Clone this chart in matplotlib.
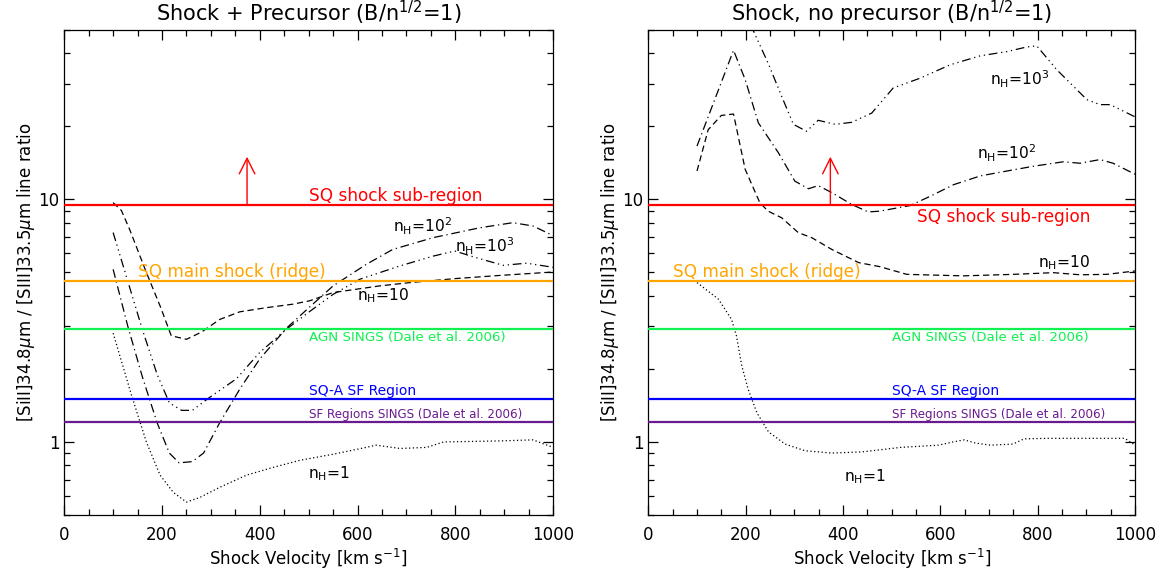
import matplotlib
matplotlib.use("Agg")
import matplotlib.pyplot as plt
from matplotlib.ticker import LogLocator, MultipleLocator, FormatStrFormatter, NullFormatter

# ---- data (shock velocity in km/s, line ratio) ----

# left panel: shock + precursor
pre_n1_v = [100, 138, 168, 196, 223, 250, 277, 318, 373, 427, 482, 550, 618, 638, 687, 742, 776, 891, 959, 1000]
pre_n1_r = [2.81, 1.55, 1.0, 0.73, 0.62, 0.565, 0.59, 0.65, 0.73, 0.785, 0.84, 0.89, 0.95, 0.97, 0.94, 0.95, 1.0, 1.01, 1.02, 0.95]

pre_n10_v = [100, 117, 134, 168, 196, 219, 250, 281, 318, 359, 414, 468, 502, 550, 645, 707, 802, 891, 1000]
pre_n10_r = [9.7, 9.0, 7.5, 5.0, 3.64, 2.74, 2.65, 2.84, 3.2, 3.44, 3.58, 3.70, 3.82, 4.13, 4.40, 4.54, 4.72, 4.86, 5.02]

pre_n100_v = [100, 130, 160, 190, 215, 235, 262, 285, 318, 359, 400, 455, 502, 550, 618, 672, 755, 850, 918, 959, 1000]
pre_n100_r = [5.15, 3.0, 1.85, 1.2, 0.9, 0.82, 0.83, 0.9, 1.2, 1.65, 2.2, 2.95, 3.6, 4.40, 5.40, 6.22, 6.96, 7.64, 8.02, 7.77, 7.1]

pre_n1000_v = [100, 130, 160, 190, 215, 240, 262, 298, 352, 400, 455, 502, 550, 605, 687, 755, 799, 843, 898, 946, 1000]
pre_n1000_r = [7.3, 4.6, 2.9, 1.9, 1.45, 1.35, 1.35, 1.53, 1.82, 2.34, 2.92, 3.45, 4.06, 4.69, 5.32, 5.84, 6.13, 5.75, 5.35, 5.46, 5.25]

# right panel: shock only
sh_n1_v = [100, 144, 171, 181, 192, 205, 223, 247, 281, 322, 377, 439, 519, 596, 626, 649, 672, 703, 749, 772, 818, 979, 1000]
sh_n1_r = [4.54, 3.88, 3.2, 2.74, 2.06, 1.65, 1.32, 1.10, 0.98, 0.92, 0.90, 0.91, 0.95, 0.97, 1.0, 1.02, 0.99, 0.97, 0.98, 1.03, 1.035, 1.035, 0.97]

sh_n10_v = [100, 123, 150, 175, 199, 229, 246, 274, 308, 336, 377, 432, 476, 531, 647, 750, 832, 887, 942, 1000]
sh_n10_r = [13.1, 19.4, 22.2, 22.5, 13.3, 9.7, 8.95, 8.4, 7.3, 6.95, 6.22, 5.49, 5.28, 4.91, 4.84, 4.91, 4.99, 4.89, 4.91, 5.07]

sh_n100_v = [100, 175, 199, 226, 267, 301, 329, 349, 377, 418, 452, 476, 538, 579, 627, 682, 737, 791, 853, 887, 928, 955, 1000]
sh_n100_r = [16.6, 41.2, 31.2, 20.7, 15.6, 11.9, 11.07, 11.4, 10.67, 9.53, 8.88, 8.95, 9.44, 10.3, 11.5, 12.5, 13.1, 13.7, 14.3, 14.1, 14.6, 14.1, 12.7]

sh_n1000_v = [175, 200, 215, 246, 274, 298, 325, 349, 384, 418, 459, 503, 558, 620, 682, 737, 777, 798, 839, 901, 928, 949, 1000]
sh_n1000_r = [80, 60, 50, 36.5, 26.6, 20.4, 19.1, 21.2, 20.4, 20.8, 22.7, 28.8, 31.6, 35.9, 39.1, 40.7, 42.5, 43.0, 34.3, 25.8, 24.6, 24.6, 21.9]

# observed ratios (horizontal lines)
obs_names = ["SQ shock sub-region", "SQ main shock (ridge)", "AGN SINGS (Dale et al. 2006)",
             "SQ-A SF Region", "SF Regions SINGS (Dale et al. 2006)"]
obs_values = [9.45, 4.59, 2.91, 1.50, 1.21]
obs_colors = ["#ff0000", "#ffa500", "#10f050", "#0000ff", "#6a1a8f"]

titles = [r"Shock + Precursor (B/n$^{1/2}$=1)", r"Shock, no precursor (B/n$^{1/2}$=1)"]
lower_limit_v = 374
lower_limit_top = 15.0

# ---- figure ----
fig = plt.figure(figsize=(11.64, 5.72), dpi=100)
ax_l = fig.add_axes([0.0552, 0.0997, 0.4199, 0.848])
ax_r = fig.add_axes([0.557, 0.0997, 0.4181, 0.848])

styles = {
    "n1": (0, (1, 2)),
    "n10": (0, (5, 3)),
    "n100": (0, (7, 3, 1, 3)),
    "n1000": (0, (7, 3, 1, 3, 1, 3, 1, 3)),
}


def draw_curves(ax, curves):
    for v, r, key in curves:
        ax.plot(v, r, color="black", lw=0.9, linestyle=styles[key])


draw_curves(ax_l, [(pre_n1_v, pre_n1_r, "n1"), (pre_n10_v, pre_n10_r, "n10"),
                   (pre_n100_v, pre_n100_r, "n100"), (pre_n1000_v, pre_n1000_r, "n1000")])
draw_curves(ax_r, [(sh_n1_v, sh_n1_r, "n1"), (sh_n10_v, sh_n10_r, "n10"),
                   (sh_n100_v, sh_n100_r, "n100"), (sh_n1000_v, sh_n1000_r, "n1000")])

label_sizes = [12.2, 12.2, 9.6, 10, 8.6]

for i, ax in enumerate([ax_l, ax_r]):
    for name, val, col, fs in zip(obs_names, obs_values, obs_colors, label_sizes):
        ax.axhline(val, color=col, lw=1.6, zorder=3)
    # line labels
    ax.text(500 if i == 0 else 551, obs_values[0] * (1.005 if i == 0 else 0.975), obs_names[0],
            color=obs_colors[0], fontsize=label_sizes[0], va="bottom" if i == 0 else "top")
    ax.text(151 if i == 0 else 51, obs_values[1] * 1.005, obs_names[1],
            color=obs_colors[1], fontsize=label_sizes[1], va="bottom")
    ax.text(500, obs_values[2] * 0.985, obs_names[2], color=obs_colors[2],
            fontsize=label_sizes[2], va="top")
    ax.text(500, obs_values[3] * 1.01, obs_names[3], color=obs_colors[3],
            fontsize=label_sizes[3], va="bottom")
    ax.text(500, obs_values[4] * 1.01, obs_names[4], color=obs_colors[4],
            fontsize=label_sizes[4], va="bottom")

    ax.annotate("", xy=(lower_limit_v, lower_limit_top), xytext=(lower_limit_v, obs_values[0]),
                arrowprops=dict(arrowstyle="->", color="#ff0000", lw=1.0, mutation_scale=28,
                                shrinkA=0, shrinkB=0), zorder=4)

    ax.set_yscale("log")
    ax.set_xlim(0, 1000)
    ax.set_ylim(0.5, 50)
    ax.xaxis.set_major_locator(MultipleLocator(200))
    ax.xaxis.set_minor_locator(MultipleLocator(50))
    ax.yaxis.set_major_locator(LogLocator(base=10))
    ax.yaxis.set_minor_locator(LogLocator(base=10, subs=range(2, 10)))
    ax.yaxis.set_major_formatter(FormatStrFormatter("%g"))
    ax.yaxis.set_minor_formatter(NullFormatter())
    ax.tick_params(which="both", direction="in", top=True, right=True, labelsize=12, width=0.9)
    ax.tick_params(which="major", length=7.5)
    ax.tick_params(which="minor", length=4)
    ax.tick_params(axis="x", which="major", pad=8)
    for s in ax.spines.values():
        s.set_linewidth(0.9)
    ax.set_title(titles[i], fontsize=15, pad=6)
    ax.set_xlabel(r"Shock Velocity [km s$^{-1}$]", fontsize=12, labelpad=2)
    ax.set_ylabel(r"[SiII]34.8$\mu$m / [SIII]33.5$\mu$m line ratio", fontsize=12, labelpad=1)

# curve labels
lab_fs = 11.2
ax_l.text(673, 7.76, r"n$_{\rm H}$=10$^{2}$", fontsize=lab_fs, va="center")
ax_l.text(799, 6.43, r"n$_{\rm H}$=10$^{3}$", fontsize=lab_fs, va="center")
ax_l.text(598, 4.0, r"n$_{\rm H}$=10", fontsize=lab_fs, va="center")
ax_l.text(499, 0.74, r"n$_{\rm H}$=1", fontsize=lab_fs, va="center")

ax_r.text(702, 31.2, r"n$_{\rm H}$=10$^{3}$", fontsize=lab_fs, va="center")
ax_r.text(675, 15.5, r"n$_{\rm H}$=10$^{2}$", fontsize=lab_fs, va="center")
ax_r.text(801, 5.5, r"n$_{\rm H}$=10", fontsize=lab_fs, va="center")
ax_r.text(401, 0.72, r"n$_{\rm H}$=1", fontsize=lab_fs, va="center")

fig.savefig("out.png", dpi=100)
